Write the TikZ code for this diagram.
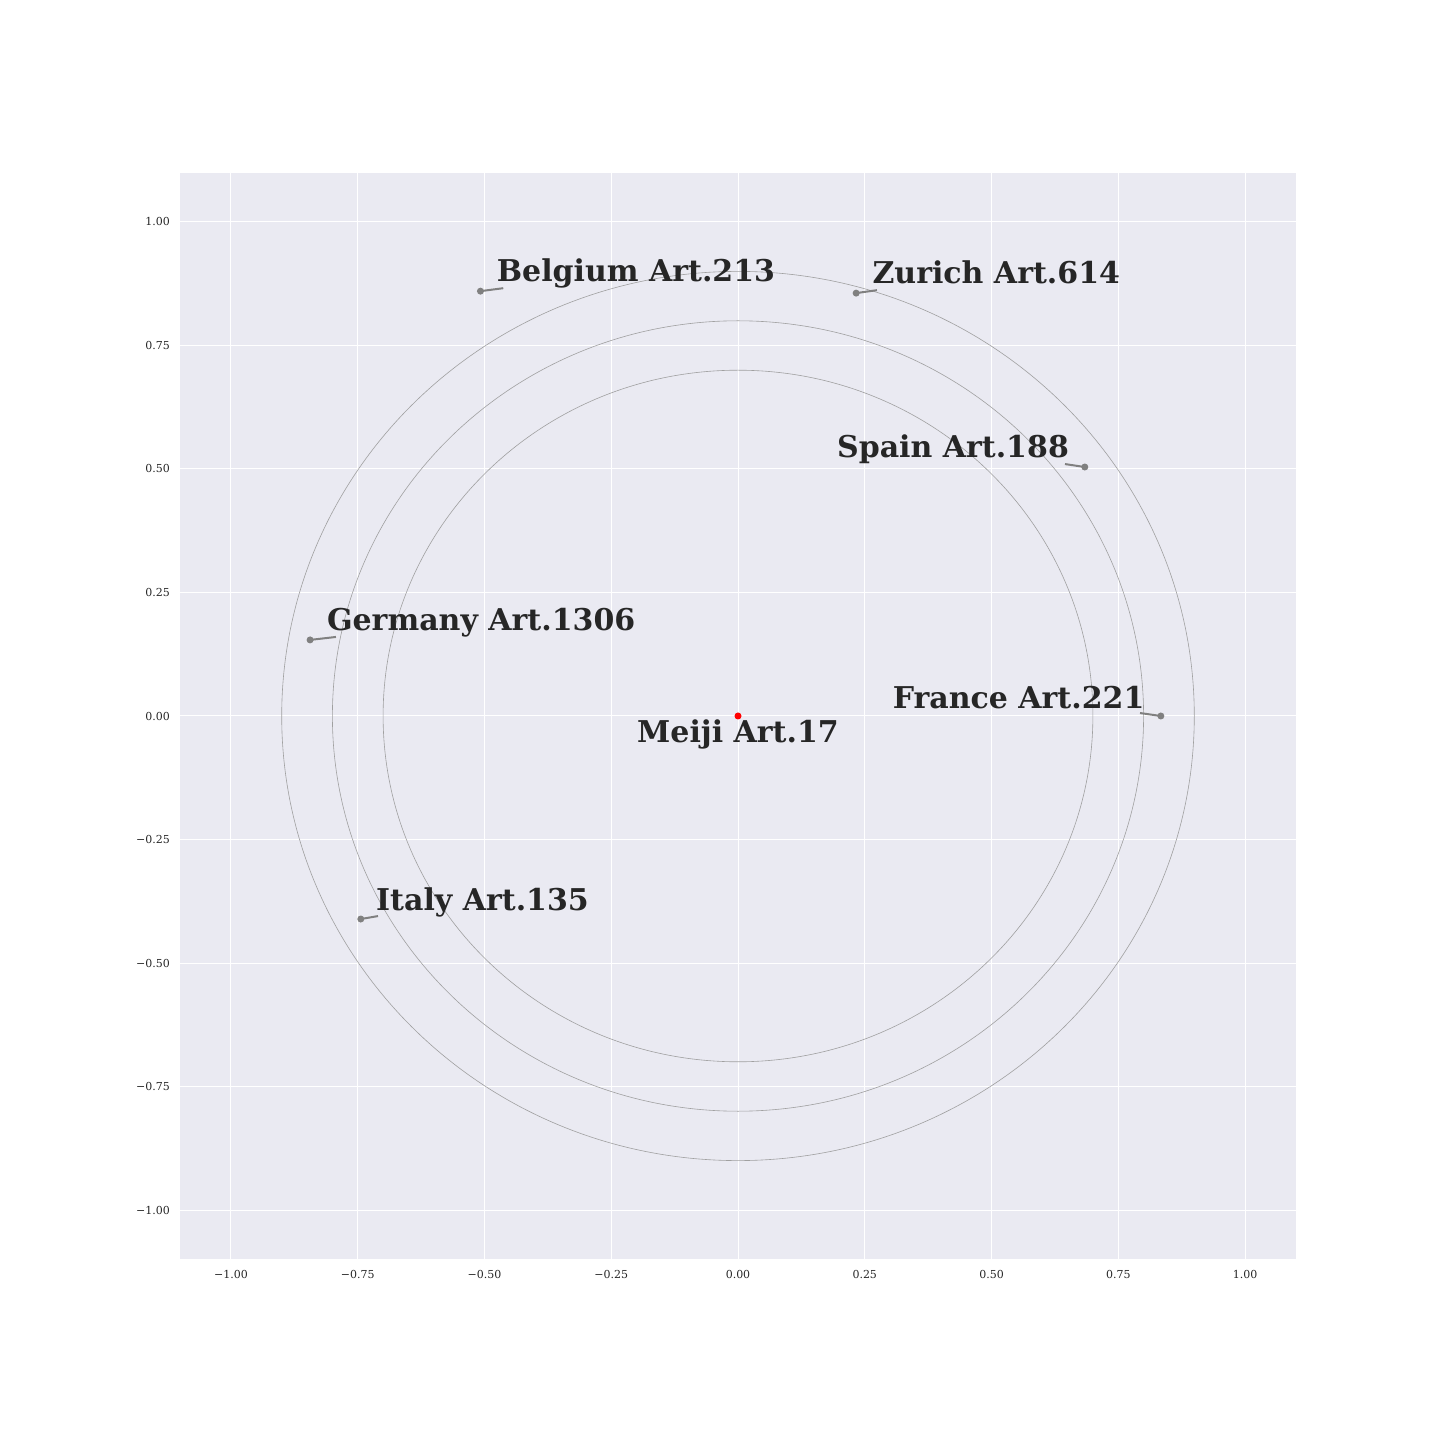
\documentclass[tikz,border=0pt]{standalone}
\usepackage{fontspec}
\setmainfont{DejaVu Serif}
\usetikzlibrary{calc}
\usetikzlibrary{positioning}
\definecolor{panel}{HTML}{EAEAF2}
\definecolor{inkgrey}{HTML}{262626}
\definecolor{ringgrey}{HTML}{A0A0A0}
\definecolor{dotgrey}{HTML}{808080}
\tikzset{
  place/.style={circle, fill=dotgrey, inner sep=0pt, minimum size=7pt},
  origin/.style={circle, fill=red, inner sep=0pt, minimum size=7pt},
  country/.style={font=\bfseries\fontsize{30}{36}\selectfont, text=inkgrey, inner sep=0pt},
  leader/.style={draw, dotgrey, line width=2pt},
  ring/.style={draw, ringgrey, line width=0.6pt},
  gridline/.style={draw, white, line width=1pt},
  ticklabel/.style={font=\fontsize{11}{13}\selectfont, text=inkgrey, inner sep=0pt}
  }

\begin{document}
\begin{tikzpicture}[x=507pt, y=494pt]
	\useasboundingbox (-1.45562,-1.46559) rectangle (1.38462,1.44939);

	% Frame
	\fill[panel] (-1.1,-1.1) rectangle (1.1,1.1);
	\foreach \t/\lab [count=\i] in {-1/−1.00, -0.75/−0.75, -0.5/−0.50, -0.25/−0.25, 0/0.00, 0.25/0.25, 0.5/0.50, 0.75/0.75, 1/1.00}{
		\draw[gridline] (\t,-1.1) -- (\t,1.1);
		\draw[gridline] (-1.1,\t) -- (1.1,\t);
		\node[ticklabel, anchor=center] (xt\i) at (\t,-1.1296) {\lab};
		\node[ticklabel, anchor=east] (yt\i) at (-1.1203,\t) {\lab};
	}

	% Rings
	\draw[ring] (0,0) circle[radius=0.9];
	\draw[ring] (0,0) circle[radius=0.8];
	\draw[ring] (0,0) circle[radius=0.7];

	% Nodes
	\node[place] (belgium) at (-0.508,0.860) {};
	\node[place] (zurich) at (0.233,0.856) {};
	\node[place] (spain) at (0.684,0.504) {};
	\node[place] (germany) at (-0.844,0.154) {};
	\node[place] (france) at (0.834,0) {};
	\node[place] (italy) at (-0.744,-0.411) {};
	\node[origin] (meiji) at (0,0) {};

	\coordinate (belgiumtip) at ([shift={(0.045,0.006)}]belgium.center);
	\coordinate (zurichtip) at ([shift={(0.041,0.006)}]zurich.center);
	\coordinate (spaintip) at ([shift={(-0.039,0.006)}]spain.center);
	\coordinate (germanytip) at ([shift={(0.051,0.006)}]germany.center);
	\coordinate (francetip) at ([shift={(-0.041,0.006)}]france.center);
	\coordinate (italytip) at ([shift={(0.034,0.006)}]italy.center);

	\node[country, anchor=base west] (belgiumtext) at ([shift={(0.032,0.019)}]belgium.center) {Belgium Art.213};
	\node[country, anchor=base west] (zurichtext) at ([shift={(0.032,0.019)}]zurich.center) {Zurich Art.614};
	\node[country, anchor=base east] (spaintext) at ([shift={(-0.031,0.020)}]spain.center) {Spain Art.188};
	\node[country, anchor=base east] (francetext) at ([shift={(-0.032,0.016)}]france.center) {France Art.221};
	\node[country, anchor=base west] (germanytext) at ([shift={(0.033,0.020)}]germany.center) {Germany Art.1306};
	\node[country, anchor=base west] (italytext) at ([shift={(0.030,0.018)}]italy.center) {Italy Art.135};
	\node[country, anchor=base] (meijitext) at ([shift={(0,-0.053)}]meiji.center) {Meiji Art.17};

	% Leaders
	\draw[leader] (belgium.center) -- (belgiumtip);
	\draw[leader] (zurich.center) -- (zurichtip);
	\draw[leader] (spain.center) -- (spaintip);
	\draw[leader] (germany.center) -- (germanytip);
	\draw[leader] (france.center) -- (francetip);
	\draw[leader] (italy.center) -- (italytip);
\end{tikzpicture}
\end{document}
